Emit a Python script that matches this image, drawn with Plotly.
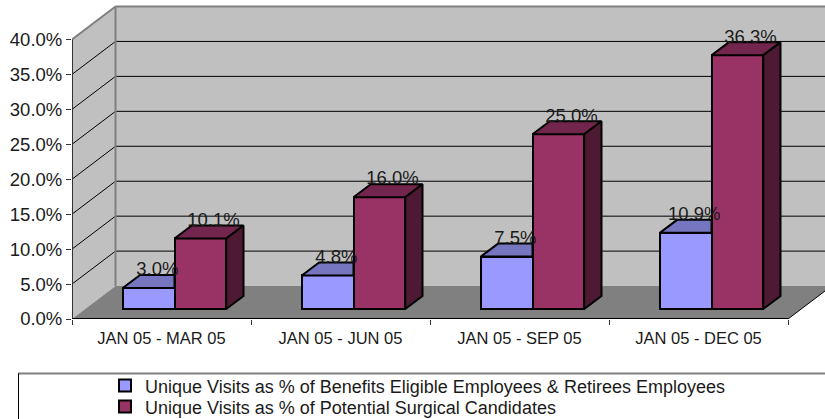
import plotly.graph_objects as go

categories = ["JAN 05 - MAR 05", "JAN 05 - JUN 05", "JAN 05 - SEP 05", "JAN 05 - DEC 05"]
series_names = [
    "Unique Visits as % of Benefits Eligible Employees & Retirees Employees",
    "Unique Visits as % of Potential Surgical Candidates",
]
benefits_values = [3.0, 4.8, 7.5, 10.9]
surgical_values = [10.1, 16.0, 25.0, 36.3]
y_ticks = [0, 5, 10, 15, 20, 25, 30, 35, 40]

W, H = 825, 419
LEFT, BASE = 72, 319.5
CAT_PX, PCT_PX = 179.0, 7.0
DX, DY = 43.5 / CAT_PX, 33 / PCT_PX
BAR_DX, BAR_DY = 17.3 / CAT_PX, 13 / PCT_PX
GAP_DX, GAP_DY = 13 / CAT_PX, 10 / PCT_PX
BAR_W = 51.7 / CAT_PX
X0, X1 = -0.5, 3.5
XMAX = X0 + (W - LEFT) / CAT_PX
YMAX = BASE / PCT_PX

BLUE, BLUE_TOP = "#9999FF", "#7676C0"
RED, RED_TOP, RED_SIDE = "#993366", "#73264D", "#4D1933"
WALL, FLOOR, EDGE = "#C0C0C0", "#808080", "#808080"
FONT = "Liberation Sans, Arial, sans-serif"
TXT = "#1a1a1a"


def poly(xs, ys, **kw):
    pts = list(zip(xs, ys))
    path = "M" + "L".join(f"{x},{y}" for x, y in pts) + "Z"
    return dict(type="path", path=path, xref="x", yref="y", layer="below", **kw)


def seg(x0, y0, x1, y1, color, width):
    return dict(type="line", x0=x0, y0=y0, x1=x1, y1=y1, xref="x", yref="y", layer="below",
                line=dict(color=color, width=width))


def px_x(p):
    return (p - LEFT) / (W - LEFT)


def px_y(p):
    return (BASE - p) / BASE


shapes = [
    poly([X0, X0 + DX, X0 + DX, X0], [0, DY, 40 + DY, 40], fillcolor=WALL, line=dict(width=0)),
    poly([X0 + DX, X1 + DX, X1 + DX, X0 + DX], [DY, DY, 40 + DY, 40 + DY], fillcolor=WALL, line=dict(width=0)),
    poly([X0, X1, X1 + DX, X0 + DX], [0, 0, DY, DY], fillcolor=FLOOR, line=dict(width=0)),
]
for v in y_ticks[1:-1]:
    shapes.append(seg(X0, v, X0 + DX, v + DY, "#000000", 1))
    shapes.append(seg(X0 + DX, v + DY, X1 + DX, v + DY, "#000000", 1))
shapes += [
    seg(X0, 40, X0 + DX, 40 + DY, EDGE, 2),
    seg(X0 + DX, 40 + DY, X1 + DX, 40 + DY, EDGE, 2),
    seg(X0 + DX, DY, X0 + DX, 40 + DY, EDGE, 2),
    seg(X0, 0, X0, 40, "#333333", 2),
    seg(X0, 0, X1, 0, "#000000", 2),
    seg(X1, 0, X1 + DX, DY, "#000000", 1),
    dict(type="line", xref="paper", yref="paper", x0=px_x(18), x1=px_x(W + 5), y0=px_y(374), y1=px_y(374),
         layer="below", line=dict(color="#808080", width=2)),
    dict(type="line", xref="paper", yref="paper", x0=px_x(18.5), x1=px_x(18.5), y0=px_y(374), y1=px_y(H + 5),
         layer="below", line=dict(color="#000000", width=1)),
]

centers = list(range(len(categories)))
fig = go.Figure()


def face(xs, ys, color):
    fig.add_trace(go.Scatter(x=xs, y=ys, mode="lines", fill="toself", fillcolor=color,
                             line=dict(color="#000000", width=2), showlegend=False, hoverinfo="skip"))


x_left = [c + GAP_DX - BAR_W for c in centers]
x_mid = [c + GAP_DX for c in centers]
x_right = [c + GAP_DX + BAR_W for c in centers]

fig.add_trace(go.Bar(x=[x + BAR_W / 2 for x in x_left], y=benefits_values, base=GAP_DY, width=BAR_W,
                     marker=dict(color=BLUE, line=dict(color="#000000", width=2)),
                     name=series_names[0], legend="legend", hoverinfo="skip"))
fig.add_trace(go.Bar(x=[x + BAR_W / 2 for x in x_mid], y=surgical_values, base=GAP_DY, width=BAR_W,
                     marker=dict(color=RED, line=dict(color="#000000", width=2)),
                     name=series_names[1], legend="legend2", hoverinfo="skip"))

for i in centers:
    a, b, c = x_left[i], x_mid[i], x_right[i]
    t1 = benefits_values[i] + GAP_DY
    t2 = surgical_values[i] + GAP_DY
    face([a, a + BAR_DX, b, b, a], [t1, t1 + BAR_DY, t1 + BAR_DY, t1, t1], BLUE_TOP)
    face([b, b + BAR_DX, c + BAR_DX, c, b], [t2, t2 + BAR_DY, t2 + BAR_DY, t2, t2], RED_TOP)
    face([c, c + BAR_DX, c + BAR_DX, c, c], [GAP_DY, GAP_DY + BAR_DY, t2 + BAR_DY, t2, GAP_DY], RED_SIDE)

for xs, vals, shift in ((x_left, benefits_values, 0), (x_mid, surgical_values, 4.5 / CAT_PX)):
    fig.add_trace(go.Scatter(
        x=[x + BAR_W / 2 + BAR_DX / 2 + shift for x in xs],
        y=[v + GAP_DY + BAR_DY - 0.7 for v in vals],
        mode="text", text=[f"{v:.1f}%" for v in vals], textposition="top center",
        textfont=dict(family=FONT, size=18.5, color=TXT), showlegend=False, hoverinfo="skip", cliponaxis=False))

legend_common = dict(xanchor="left", yanchor="middle", bgcolor="rgba(0,0,0,0)", borderwidth=0,
                     font=dict(family=FONT, size=18, color=TXT), itemclick=False, itemdoubleclick=False)
lx = px_x(105)
fig.update_layout(
    width=W, height=H, barmode="overlay", bargap=0,
    margin=dict(l=LEFT, r=0, t=0, b=H - BASE, pad=0, autoexpand=False),
    paper_bgcolor="#FFFFFF", plot_bgcolor="#FFFFFF", shapes=shapes, showlegend=True,
    legend=dict(x=lx, y=px_y(386.5), **legend_common),
    legend2=dict(x=lx, y=px_y(407.5), **legend_common),
    xaxis=dict(range=[X0, XMAX], showgrid=False, zeroline=False, showline=False,
               tickmode="array", tickvals=centers, ticktext=categories, ticks="", ticklabelstandoff=7,
               tickfont=dict(family=FONT, size=16.5, color=TXT), fixedrange=True,
               minor=dict(tickmode="array", tickvals=[X0 + i for i in range(len(categories) + 1)],
                          ticks="outside", ticklen=5, tickcolor="#333333", tickwidth=1, showgrid=False)),
    yaxis=dict(range=[0, YMAX], showgrid=False, zeroline=False, showline=False,
               tickmode="array", tickvals=y_ticks, ticktext=[f"{v:.1f}%" for v in y_ticks],
               ticks="outside", ticklen=5, tickcolor="#333333", tickwidth=1,
               tickfont=dict(family=FONT, size=18.5, color=TXT), fixedrange=True),
)
fig.write_html("out.html", config=dict(displayModeBar=False),
               post_script="document.body.style.margin='0';document.documentElement.style.overflow='hidden';")
